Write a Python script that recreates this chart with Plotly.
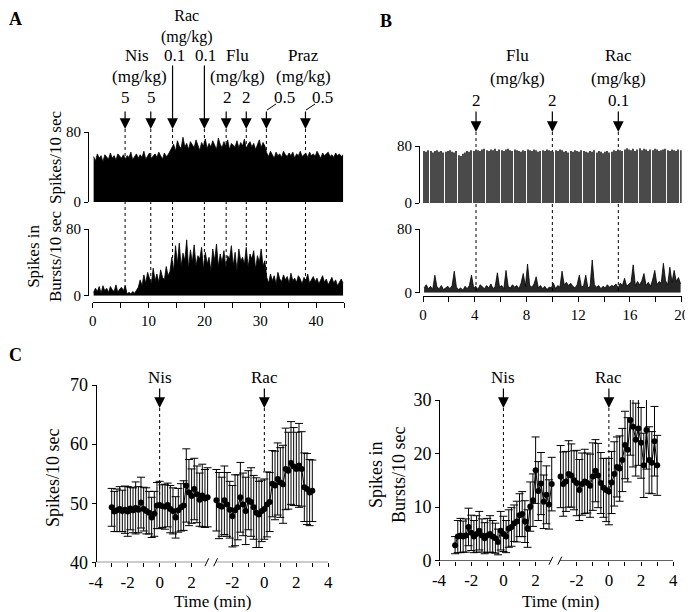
import plotly.graph_objects as go

# The page body has an 8 px margin: the figure is sized/offset so that the
# photographed window (693x612) lines up with the reference.
OFF = 8
W, H = 693 - OFF, 612 - OFF
def px(x): return (x - OFF) / W
def py(y): return 1 - (y - OFF) / H

# ---------------- Panel A (20-s bins, 45 min) ----------------
a_rate = [52,47,55,50,53,46,54,51,49,56, 50,53,48,55,52,50,54,49,53,51,
          57,48,52,55,50,54,51,58,49,53, 56,50,52,55,51,57,53,49,56,52, 54,58,
          62,66,58,70,64,61,74,63,67,60, 69,65,62,71,66,59,68,64,72,61,
          67,63,70,65,60,73,66,62,69,64, 71,60,67,65,63,70,62,68,64,72,
          61,66,69,63,67,60,65,71,62,68, 64,
          56,52,58,54,50,57,53,55,51,58, 54,52,56,53,57,50,55,53,58,52,
          54,56,51,57,53,55,52,58,54,50, 56,53,55,57,52,54,51,56,53,55, 52,54]
a_burst = [4,9,5,11,3,12,6,9,4,11,7,5,13,4,8,10,6,12,
           2,4,2,5,3,6,
           10,19,12,25,15,28,20,14,33,18,26,16,31,22,19,35,24,29,
           46,30,60,38,63,35,51,42,67,33, 55,40,61,36,48,44,58,32,52,38,
           46,30,56,42,62,35,50,40,54,34, 48,44,60,36,52,30,56,42,46,38,
           58,34,50,44,54,32,48,40,56,36, 42,
           22,15,26,18,24,14,28,20,17,25, 19,23,15,27,18,21,16,24,20,14,
           22,18,26,15,20,23,17,21,14,19, 24,16,20,13,18,22,15,19,12,17, 20,15]
a_duration = 45
a_dose_times = [5.8, 10.4, 14.3, 20.0, 23.9, 27.5, 31.1, 38.1]

# ---------------- Panel B (10-s bins, 20 min) ----------------
b_rate = [73,72,74,73,71,73,74,72,73,71, 72,73,74,72,71,73,67,66,69,71,
          73,72,74,73,75,74,73,75,76,74, 73,75,74,76,73,75,74,73,75,76,
          74,73,75,74,73,72,74,73,75,74, 73,75,74,72,73,74,73,75,74,73,
          72,74,73,75,74,72,73,71,73,72, 74,73,72,74,73,72,71,73,72,74,
          71,73,72,70,72,73,71,72,74,73, 75,74,73,75,77,75,74,76,73,75,
          77,74,76,75,73,75,74,76,75,73, 74,75,76,74,73,75,74,73,75,74]
b_burst = [6,10,5,8,4,22,7,5,9,4, 6,8,5,9,27,7,4,6,3,8,
           5,9,22,6,8,4,10,7,5,9, 6,11,5,8,25,7,9,5,28,8,
           6,10,7,9,5,12,24,8,36,9, 7,11,20,6,9,5,8,4,7,6,
           12,5,9,7,27,10,13,9,12,8, 6,10,22,7,9,22,6,8,41,10,
           7,9,5,8,6,10,7,9,8,11, 6,12,9,18,8,11,13,35,9,14,
           10,15,24,9,13,8,16,28,10,14, 12,37,15,10,32,13,28,14,19,11]
b_duration = 20
b_dose_times = [4.1, 10.0, 15.1]

# ---------------- Panel C (10-s means, two 6-min windows) ----------------
c_time = [-3 + i / 6 for i in range(37)]
c_gap = 6.55   # axis offset for the second window (after the break)

c_rate_pre = [49.3,48.6,48.8,49.0,48.7,48.9,48.6,49.1,48.8,49.2,
              48.9,50.1,49.0,48.7,48.4,47.6,48.2,49.6,49.7,49.5,
              49.4,49.7,49.0,48.7,47.6,48.8,49.3,49.6,53.0,51.8,
              51.2,52.4,51.5,50.6,51.3,50.8,51.0]
c_rate_pre_sem = [3.2,3.4,3.6,3.8,3.5,4.0,4.2,3.6,3.8,4.4,
                  3.9,4.3,3.7,3.9,3.6,3.4,3.8,3.9,4.0,3.6,
                  3.8,3.7,4.0,3.9,3.5,3.7,4.0,4.2,6.2,5.6,
                  4.6,5.2,4.8,4.5,5.3,4.9,5.0]
c_rate_post = [50.5,49.6,49.4,50.5,49.8,48.9,47.8,48.8,49.3,51.0,
               49.8,48.7,50.5,50.2,49.3,48.4,48.1,48.7,49.0,49.8,
               50.2,53.3,53.0,54.1,53.5,53.2,55.8,55.5,56.8,56.2,
               55.8,56.4,55.8,52.7,52.4,51.8,52.1]
c_rate_post_sem = [5.2,5.6,5.0,5.8,5.4,4.8,5.2,6.0,5.5,5.9,
                   5.3,5.7,5.0,5.8,5.4,5.9,5.6,5.2,5.1,5.5,
                   5.0,5.6,5.8,6.1,5.9,6.6,6.9,6.5,7.0,6.6,
                   6.2,7.1,6.3,5.8,6.0,5.6,5.2]
c_burst_pre = [2.9,4.5,4.7,4.5,4.7,6.3,5.2,4.5,5.0,5.6,
               4.7,4.2,4.7,5.0,4.5,4.2,3.5,5.6,5.0,4.5,
               6.0,6.3,7.0,7.3,8.5,8.7,7.3,6.0,10.1,11.3,
               16.9,13.0,14.4,11.0,12.3,10.5,14.3]
c_burst_pre_sem = [1.6,3.0,3.2,2.9,3.1,3.5,3.3,3.0,3.4,3.6,
                   3.1,2.9,3.2,3.4,3.0,2.8,2.4,3.6,3.3,3.0,
                   3.5,3.6,3.4,3.8,4.0,4.2,3.9,3.5,4.6,4.9,
                   6.2,5.5,5.8,5.0,5.4,4.6,5.0]
c_burst_post = [15.7,14.3,14.8,16.2,15.9,15.0,14.5,13.2,14.3,14.8,
                14.5,14.0,15.7,16.8,15.9,14.5,13.6,13.2,12.9,14.6,
                16.2,17.5,17.2,18.8,21.6,20.7,26.2,25.0,22.6,24.7,
                22.0,17.8,24.4,18.8,18.3,22.3,17.8]
c_burst_post_sem = [5.8,6.0,5.6,6.2,5.9,5.5,6.1,5.7,5.8,6.0,
                    5.6,5.9,6.3,5.8,6.0,5.7,5.5,5.9,6.2,5.8,
                    6.0,5.6,6.1,5.9,6.3,6.0,6.5,7.5,6.8,6.9,
                    6.6,6.0,7.3,6.2,5.8,6.5,5.6]

FONT = "Liberation Serif"
fig = go.Figure()

def centers(vals, dur):
    n = len(vals)
    return [(i + 0.5) * dur / n for i in range(n)]

# Panel A traces
fig.add_trace(go.Scatter(x=centers(a_rate, a_duration), y=a_rate, mode="lines",
                         line=dict(color="black", width=0.8), fill="tozeroy",
                         fillcolor="black", xaxis="x", yaxis="y", hoverinfo="skip"))
fig.add_trace(go.Scatter(x=centers(a_burst, a_duration), y=a_burst, mode="lines",
                         line=dict(color="black", width=0.8), fill="tozeroy",
                         fillcolor="black", xaxis="x2", yaxis="y2", hoverinfo="skip"))
# Panel B traces
fig.add_trace(go.Bar(x=centers(b_rate, b_duration), y=b_rate, marker=dict(color="#4a4a4a", line=dict(width=0)),
                     xaxis="x3", yaxis="y3", hoverinfo="skip"))
fig.add_trace(go.Scatter(x=centers(b_burst, b_duration), y=b_burst, mode="lines",
                         line=dict(color="black", width=0.8), fill="tozeroy",
                         fillcolor="rgba(0,0,0,0.85)", xaxis="x4", yaxis="y4", hoverinfo="skip"))

# Panel C traces
def ctrace(xs, ys, es, xa, ya):
    return go.Scatter(x=xs, y=ys, mode="lines+markers",
                      line=dict(color="black", width=1),
                      marker=dict(color="black", size=6),
                      error_y=dict(type="data", array=es, visible=True, color="black",
                                   thickness=1, width=4),
                      xaxis=xa, yaxis=ya, hoverinfo="skip")

c_time2 = [t + c_gap for t in c_time]
fig.add_trace(ctrace(c_time, c_rate_pre, c_rate_pre_sem, "x5", "y5"))
fig.add_trace(ctrace(c_time2, c_rate_post, c_rate_post_sem, "x5", "y5"))
fig.add_trace(ctrace(c_time, c_burst_pre, c_burst_pre_sem, "x6", "y6"))
fig.add_trace(ctrace(c_time2, c_burst_post, c_burst_post_sem, "x6", "y6"))

def yax(d0, d1, rng, pos, tv, fs):
    return dict(domain=[py(d0), py(d1)], range=rng, anchor="free", position=pos,
                showline=True, linecolor="black", linewidth=1, ticks="outside",
                ticklen=4, tickwidth=1, tickcolor="black", tickvals=tv,
                showgrid=False, zeroline=False, automargin=False,
                tickfont=dict(size=fs, family=FONT))

def xax(l, r, rng, ypos, tv, tt, fs, line=True, tl=5):
    return dict(domain=[px(l), px(r)], range=rng, anchor="free", position=py(ypos),
                showline=line, linecolor="black", linewidth=1, ticks="outside",
                ticklen=tl, tickwidth=1, tickcolor="black", tickvals=tv, ticktext=tt,
                showgrid=False, zeroline=False, automargin=False,
                tickfont=dict(size=fs, family=FONT))

a_ticks = list(range(0, 50, 5))
a_text = [str(v) if v % 10 == 0 else "" for v in a_ticks]
b_ticks = list(range(0, 22, 2))
b_text = [str(v) if v % 4 == 0 else "" for v in b_ticks]
c_ticks1 = [-4, -3, -2, -1, 0, 1, 2]
c_ticks2 = [-2, -1, 0, 1, 2, 3, 4]
c_tv = c_ticks1 + [t + c_gap for t in c_ticks2]
c_tt = [str(t) if t % 2 == 0 else "" for t in c_ticks1] + [str(t) if t % 2 == 0 else "" for t in c_ticks2]

fig.update_layout(
    template="none",
    width=W, height=H, margin=dict(l=0, r=0, t=0, b=0, pad=0, autoexpand=False),
    paper_bgcolor="white", plot_bgcolor="white", showlegend=False,
    font=dict(family=FONT, size=17, color="black"),
    bargap=0.5,
    xaxis=dict(domain=[px(92.7), px(344)], range=[0, 45], visible=False, anchor="free",
               position=py(202), automargin=False),
    yaxis=yax(202, 132, [0, 80], px(88), [0, 80], 15),
    xaxis2=xax(92.7, 344, [0, 45], 302, a_ticks, a_text, 15),
    yaxis2=yax(295.7, 229, [0, 80], px(88), [0, 80], 15),
    xaxis3=dict(domain=[px(423), px(681.7)], range=[0, 20], visible=False, anchor="free",
                position=py(203), automargin=False),
    yaxis3=yax(203, 146, [0, 80], px(419), [0, 80], 15),
    xaxis4=xax(423, 681.7, [0, 20], 295.7, b_ticks, b_text, 15),
    yaxis4=yax(292.7, 229, [0, 80], px(419), [0, 80], 15),
    xaxis5=xax(95.7, 328.3, [-4, 4 + c_gap], 562.3, c_tv, c_tt, 17, line=False, tl=4),
    yaxis5=yax(562.3, 385, [40, 70], px(95.7), [40, 50, 60, 70], 18),
    xaxis6=xax(439, 673.3, [-4, 4 + c_gap], 560.7, c_tv, c_tt, 17, line=False, tl=4),
    yaxis6=yax(560.7, 400, [0, 30], px(439), [0, 10, 20, 30], 18),
)

ann = []
shapes = []

def txt(x, y, s, size=17, bold=False, angle=0):
    ann.append(dict(x=px(x), y=py(y), xref="paper", yref="paper", text=("<b>%s</b>" % s) if bold else s,
                    showarrow=False, font=dict(size=size, family=FONT, color="black"),
                    xanchor="center", yanchor="middle", textangle=angle))

def arrow(xref, x, tip, tail):
    ann.append(dict(x=x, y=py(tip), xref=xref, yref="paper", text="", showarrow=True,
                    ax=0, ay=-(tip - tail), axref="pixel", ayref="pixel",
                    arrowhead=2, arrowsize=1.8, arrowwidth=1.2, arrowcolor="black"))

def dotted(xref, x, y0, y1):
    shapes.append(dict(type="line", xref=xref, yref="paper", x0=x, x1=x, y0=py(y0), y1=py(y1),
                       line=dict(color="black", width=1, dash="dot"), layer="below"))

# Panel letters
txt(16, 19, "A", 18, True)
txt(386, 21, "B", 18, True)
txt(16, 355, "C", 18, True)

# Panel A labels
txt(187, 26, "Rac<br>(mg/kg)", 16)
txt(137, 55, "Nis"); txt(139, 77, "(mg/kg)")
txt(174, 55, "0.1"); txt(205, 55, "0.1")
txt(237, 55, "Flu"); txt(238, 77, "(mg/kg)")
txt(303, 55, "Praz"); txt(303, 77, "(mg/kg)")
for x, s in zip([125, 151, 227, 247, 284, 322], ["5", "5", "2", "2", "0.5", "0.5"]):
    txt(x, 98, s)
for i, t in enumerate(a_dose_times):
    tail = 64 if i in (2, 3) else 110
    arrow("x", t, 129, tail)
    dotted("x", t, 129, 295)
shapes.append(dict(type="line", xref="paper", yref="paper", x0=px(276), y0=py(104), x1=px(267), y1=py(110),
                   line=dict(color="black", width=1)))
shapes.append(dict(type="line", xref="paper", yref="paper", x0=px(315), y0=py(104), x1=px(306), y1=py(110),
                   line=dict(color="black", width=1)))

# Panel A axis titles
txt(55, 158, "Spikes/10 sec", 17, angle=-90)
txt(44, 256, "Spikes in<br>Bursts/10 sec", 17, angle=-90)

# Panel B labels
txt(517, 55, "Flu"); txt(517, 78, "(mg/kg)")
txt(618, 55, "Rac"); txt(618, 78, "(mg/kg)")
for t, s in zip(b_dose_times, ["2", "2", "0.1"]):
    ann.append(dict(x=t, y=py(100), xref="x3", yref="paper", text=s, showarrow=False,
                    font=dict(size=17, family=FONT), xanchor="center", yanchor="middle"))
    arrow("x3", t, 132, 110)
    dotted("x3", t, 132, 292)

# Panel C
c_events = [("Nis", 0.0), ("Rac", c_gap)]
c_dot_end = {"x5": [498, 473], "x6": [508, 495]}
for xr in ["x5", "x6"]:
    for k, (lab, t) in enumerate(c_events):
        ann.append(dict(x=t, y=py(377), xref=xr, yref="paper", text=lab, showarrow=False,
                        font=dict(size=17, family=FONT), xanchor="center", yanchor="middle"))
        arrow(xr, t, 408, 387)
        dotted(xr, t, 408, c_dot_end[xr][k])

for ya, y0 in [("y5", 40), ("y6", 0)]:
    xr = "x5" if ya == "y5" else "x6"
    shapes.append(dict(type="line", xref=xr, yref=ya, x0=-4, x1=2.95, y0=y0, y1=y0,
                       line=dict(color="black", width=1)))
    shapes.append(dict(type="line", xref=xr, yref=ya, x0=3.5, x1=4 + c_gap, y0=y0, y1=y0,
                       line=dict(color="black", width=1)))
    base = 562.3 if ya == "y5" else 560.7
    for cx in (2.95, 3.5):
        shapes.append(dict(type="line", xref=xr, yref="paper", x0=cx - 0.12, x1=cx + 0.12,
                           y0=py(base + 4), y1=py(base - 4), line=dict(color="black", width=1)))

txt(53, 478, "Spikes/10 sec", 18, angle=-90)
txt(387, 474, "Spikes in<br>Bursts/10 sec", 18, angle=-90)
txt(212, 601, "Time (min)", 17)
txt(560, 601, "Time (min)", 17)

fig.update_layout(annotations=ann, shapes=shapes)
fig.write_html("out.html")
